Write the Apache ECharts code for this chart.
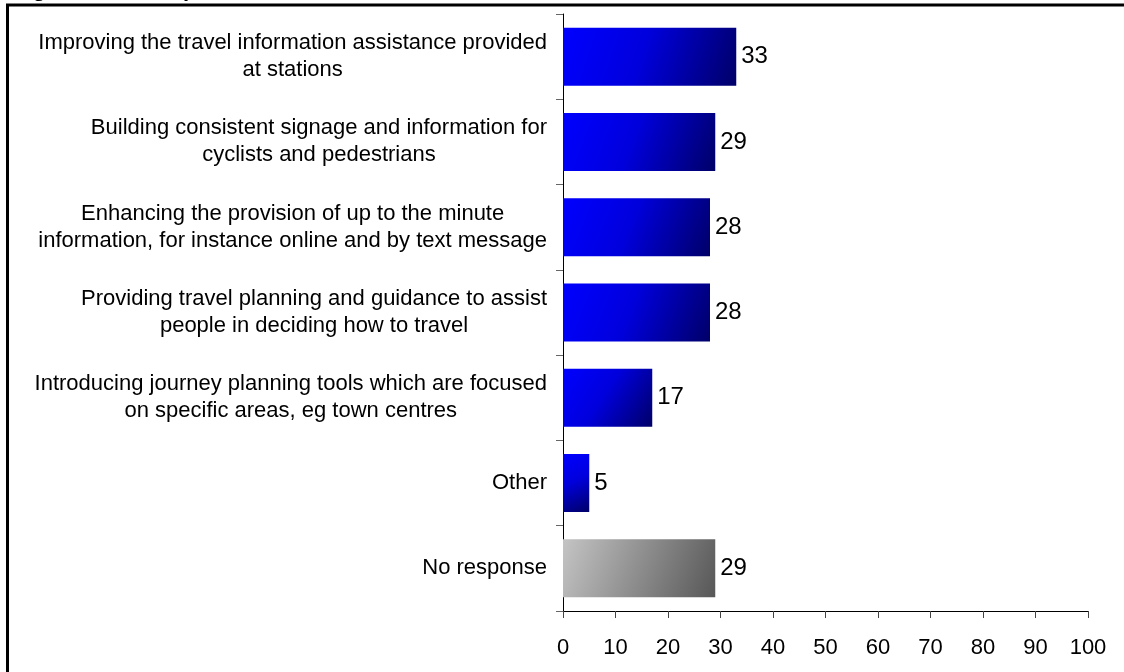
<!DOCTYPE html>
<html>
<head>
<meta charset="utf-8">
<script src="https://cdn.jsdelivr.net/npm/echarts@6/dist/echarts.min.js"></script>
<style>
  html, body { margin: 0; padding: 0; background: #fff; }
  #chart { width: 1124px; height: 672px; }
</style>
</head>
<body>
<div id="chart"></div>
<script>
// Survey responses: measures that would improve travel information (%)
const categories = [
  'Improving the travel information assistance provided\nat stations',
  'Building consistent signage and information for\ncyclists and pedestrians',
  'Enhancing the provision of up to the minute\ninformation, for instance online and by text message',
  'Providing travel planning and guidance to assist\npeople in deciding how to travel',
  'Introducing journey planning tools which are focused\non specific areas, eg town centres',
  'Other',
  'No response'
];
const values = [33, 29, 28, 28, 17, 5, 29];
const greyCategories = ['No response'];
const xTickLabels = ['0', '10', '20', '30', '40', '50', '60', '70', '80', '90', '100'];
const titleText = 'Figure 12.3: Scope for better travel information';

const FONT = '"Liberation Sans", Arial, Helvetica, sans-serif';

const blueFill = new echarts.graphic.LinearGradient(0, 0, 1, 1, [
  { offset: 0, color: '#0000ff' },
  { offset: 0.45, color: '#0000dd' },
  { offset: 1, color: '#000068' }
]);
const greyFill = new echarts.graphic.LinearGradient(0, 0, 1, 1, [
  { offset: 0, color: '#c4c4c4' },
  { offset: 1, color: '#575757' }
]);

const barData = values.map((v, i) => ({
  value: v,
  itemStyle: { color: greyCategories.includes(categories[i]) ? greyFill : blueFill }
}));

const chart = echarts.init(document.getElementById('chart'), null, { renderer: 'canvas' });

chart.setOption({
  animation: false,
  backgroundColor: '#ffffff',
  grid: { left: 563, right: 36, top: 14, bottom: 61, containLabel: false },
  xAxis: {
    type: 'value',
    min: 0,
    max: 100,
    interval: 10,
    axisLine: { show: true, lineStyle: { color: '#000', width: 1 } },
    axisTick: { show: true, length: 7, lineStyle: { color: '#444' } },
    splitLine: { show: false },
    axisLabel: {
      margin: 26,
      fontSize: 22,
      fontFamily: FONT,
      color: '#000',
      formatter: (v) => xTickLabels[Math.round(v / 10)]
    }
  },
  yAxis: {
    type: 'category',
    inverse: true,
    data: categories,
    axisLine: { show: true, lineStyle: { color: '#000', width: 1 } },
    axisTick: { show: true, length: 7, lineStyle: { color: '#666' } },
    splitLine: { show: false },
    axisLabel: {
      margin: 16,
      interval: 0,
      formatter: (v) => v.split('\n').map((l) => '{c|' + l + '}').join('\n'),
      rich: {
        c: {
          align: 'center',
          fontSize: 22,
          lineHeight: 27,
          fontFamily: FONT,
          color: '#000'
        }
      }
    }
  },
  series: [{
    type: 'bar',
    data: barData,
    barWidth: 58,
    label: {
      show: true,
      position: 'right',
      distance: 5,
      fontSize: 24,
      fontFamily: FONT,
      color: '#000'
    }
  }],
  graphic: [
    {
      type: 'text',
      z: 10,
      style: {
        x: 13,
        y: 1,
        text: titleText,
        font: 'bold 22px ' + FONT,
        fill: '#000',
        verticalAlign: 'bottom'
      }
    },
    {
      type: 'rect',
      z: 20,
      shape: { x: 7.5, y: 5, width: 1300, height: 900 },
      style: { fill: 'none', stroke: '#000', lineWidth: 3 }
    }
  ]
});
</script>
</body>
</html>
